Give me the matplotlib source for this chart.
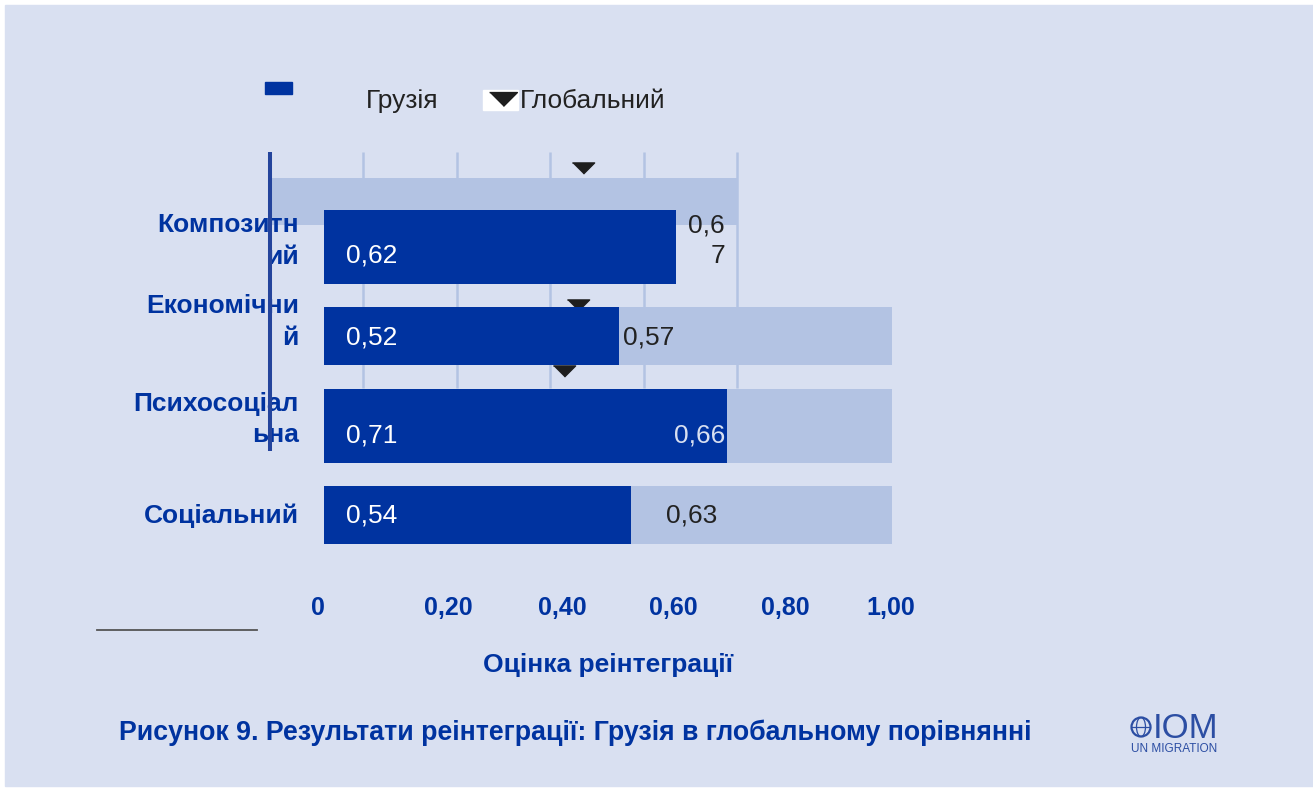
import matplotlib
matplotlib.use("Agg")
import matplotlib.pyplot as plt
import matplotlib.transforms as mtransforms
from matplotlib.patches import Rectangle, Ellipse
from matplotlib.lines import Line2D

plt.rcParams['font.family'] = ['Liberation Sans', 'DejaVu Sans']

# дані
categories = ["Композитн\nий", "Економічни\nй", "Психосоціал\nьна", "Соціальний"]
georgia = [0.62, 0.52, 0.71, 0.54]
global_vals = [0.67, 0.57, 0.66, 0.63]
georgia_labels = ["0,62", "0,52", "0,71", "0,54"]
global_labels = ["0,6\n7", "0,57", "0,66", "0,63"]
ticks = [0, 0.2, 0.4, 0.6, 0.8, 1.0]
tick_labels = ["0", "0,20", "0,40", "0,60", "0,80", "1,00"]
scale_max = 1.0

BG = '#D9E0F1'
LIGHT = '#B3C3E3'
DARK = '#0033A0'
AXIS = '#24449C'
INK = '#222222'
FS = 19

W, H = 1313, 789
fig = plt.figure(figsize=(W / 100, H / 100), dpi=100)
fig.patch.set_facecolor('white')


def fx(p):
    return p / W


def fy(p):
    return 1 - p / H


fig.add_artist(Rectangle((fx(5), fy(786)), 1, (786 - 5) / H,
                         transform=fig.transFigure, color=BG, zorder=-5))

# вертикальна розкладка: рядок 0 по центру 247 px, крок 89.3 px
row0, pitch = 247, 89.3
ylim = (3.5, -1.1)
top_px = row0 + ylim[1] * pitch
bot_px = row0 + ylim[0] * pitch
rows = list(range(len(categories)))
bar_h = [0.83, 0.65, 0.83, 0.65]

# сітка (інший масштаб, як у зсунутому оригіналі)
ax2 = fig.add_axes([fx(270), fy(bot_px), (737 - 270) / W, (bot_px - top_px) / H])
ax2.set_xlim(0, scale_max)
ax2.set_ylim(*ylim)
ax2.axis('off')
ax2.vlines(ticks[1:], -1.064, 1.58, color=LIGHT, lw=1.8, zorder=1, clip_on=False)
ax2.barh(-0.51, scale_max, height=0.53, left=0, color=LIGHT, zorder=2)

tri = [(-1, 0.5), (1, 0.5), (0, -0.5)]
tri_idx = [0, 2, 3]
tri_y = [-0.88, 0.645, 1.39]
ax2.plot([global_vals[i] for i in tri_idx], tri_y, ls='none', marker=tri,
         ms=16, color='#1E1E1E', zorder=3)

# основні стовпчики
ax = fig.add_axes([fx(324), fy(bot_px), 568 / W, (bot_px - top_px) / H])
ax.set_xlim(0, scale_max)
ax.set_ylim(*ylim)
ax.patch.set_visible(False)
for s in ax.spines.values():
    s.set_visible(False)

ax.barh(rows[1:], [scale_max] * 3, height=bar_h[1:], color=LIGHT, zorder=1)
ax.barh(rows, georgia, height=bar_h, color=DARK, zorder=2)

ax.plot([0, 0], [-1.064, 2.284], transform=ax2.transData, color=AXIS,
        lw=2.9, zorder=6, clip_on=False, solid_capstyle='butt')

# підписи значень Грузії
g_dy = [0.1, 0.01, 0.11, 0.01]
for r, lab, dy in zip(rows, georgia_labels, g_dy):
    ax.annotate(lab, xy=(0, r + dy), xytext=(22, 0), textcoords='offset pixels',
                ha='left', va='center', fontsize=FS, color='white', zorder=4)

# підписи глобальних значень
gl_x = [0.706, 0.527, 0.706, 0.648]
gl_ha = ['right', 'left', 'right', 'center']
gl_dy = [-0.07, 0.01, 0.11, 0.01]
gl_col = [INK, INK, BG, INK]
for r, lab, x, ha, dy, c in zip(rows, global_labels, gl_x, gl_ha, gl_dy, gl_col):
    ax.text(x, r + dy, lab, ha=ha, va='center', fontsize=FS, color=c,
            linespacing=1.29, zorder=4)

# назви категорій
cat_dy = [-0.07, -0.16, -0.07, 0.01]
for r, lab, dy in zip(rows, categories, cat_dy):
    ax.annotate(lab, xy=(0, r + dy), xytext=(-25, 0), textcoords='offset pixels',
                ha='right', va='center', fontsize=FS, fontweight='bold',
                color=DARK, linespacing=1.4, multialignment='right', zorder=4)

ax.set_yticks([])
ax.set_xticks(ticks)
ax.set_xticklabels(tick_labels, fontsize=18, fontweight='bold', color=DARK)
ax.tick_params(axis='x', length=0, pad=26)
# зсув підписів осі, як в оригіналі
tick_dx = [-6, 11, 11, 9, 7, -1]
for lab, dx in zip(ax.get_xticklabels(), tick_dx):
    lab.set_transform(lab.get_transform() +
                      mtransforms.ScaledTranslation(dx / 100, 0, fig.dpi_scale_trans))
ax.set_xlabel('Оцінка реінтеграції', fontsize=19, fontweight='bold', color=DARK,
              labelpad=24)

# легенда
fig.add_artist(Rectangle((fx(265), fy(94)), 27 / W, 12 / H,
                         transform=fig.transFigure, color=DARK))
fig.text(fx(366), fy(101), 'Грузія', ha='left', va='center', fontsize=FS, color=INK)
fig.add_artist(Rectangle((fx(483), fy(110)), 35 / W, 20 / H,
                         transform=fig.transFigure, color='white'))
fig.add_artist(Line2D([fx(503)], [fy(99)], transform=fig.transFigure, ls='none',
                      marker=tri, ms=20, color='#1E1E1E'))
fig.text(fx(520), fy(101), 'Глобальний', ha='left', va='center', fontsize=FS, color=INK)

fig.add_artist(Line2D([fx(97), fx(257)], [fy(630), fy(630)], transform=fig.transFigure,
                      color='#555555', lw=1.3))

fig.text(fx(119), fy(733), 'Рисунок 9. Результати реінтеграції: Грузія в глобальному порівнянні',
         ha='left', va='center', fontsize=19.3, fontweight='bold', color=DARK)

# логотип IOM
LOGO = '#2C4EA3'
fig.add_artist(Ellipse((fx(1141), fy(727)), 19 / W, 19 / H, transform=fig.transFigure,
                       fill=False, ec=LOGO, lw=1.6))
fig.add_artist(Ellipse((fx(1141), fy(727)), 9 / W, 19 / H, transform=fig.transFigure,
                       fill=False, ec=LOGO, lw=0.9))
fig.add_artist(Line2D([fx(1132), fx(1150)], [fy(727), fy(727)], transform=fig.transFigure,
                      color=LOGO, lw=0.9))
fig.text(fx(1153), fy(738), 'IOM', ha='left', va='baseline', fontsize=25, color=LOGO)
fig.text(fx(1131), fy(752), 'UN MIGRATION', ha='left', va='baseline', fontsize=8.5,
         color=LOGO)

fig.savefig('out.png', dpi=100, facecolor=fig.get_facecolor())
